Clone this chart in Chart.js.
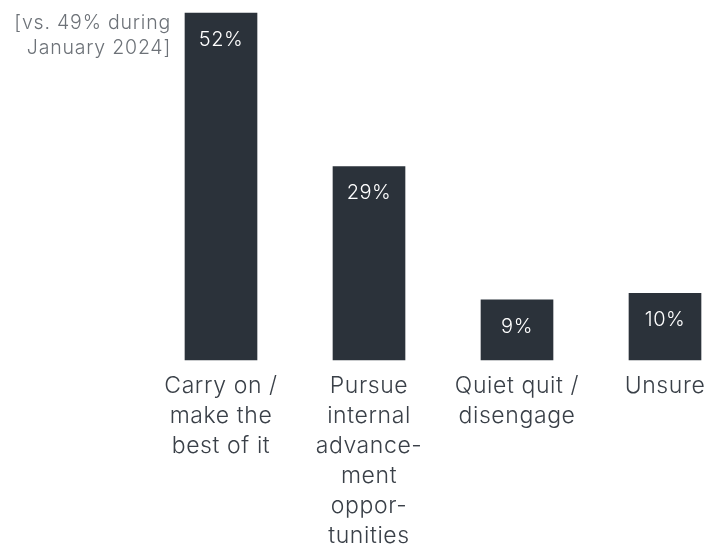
<!DOCTYPE html>
<html>
<head>
<meta charset="utf-8">
<script src="https://cdn.jsdelivr.net/npm/chart.js@4/dist/chart.umd.min.js"></script>
<style>
html,body{margin:0;padding:0;background:#fff;}
canvas{display:block;}
</style>
</head>
<body>
<canvas id="c" width="722" height="550"></canvas>
<script>
const categories = [
  ['Carry on /', 'make the', 'best of it'],
  ['Pursue', 'internal', 'advance-', 'ment', 'oppor-', 'tunities'],
  ['Quiet quit /', 'disengage'],
  ['Unsure']
];
const values = [52, 29, 9, 10];
const annotationLines = ['[vs. 49% during', 'January 2024]'];

const BAR = '#2b323a';
const TEXT = '#3a4048';
const GRAY = '#6d7278';
const FONT = 'Inter, "Noto Sans", sans-serif';

const labelPlugin = {
  id: 'labels',
  beforeDraw(chart) {
    chart.ctx.letterSpacing = '0.6px';
  },
  afterDatasetsDraw(chart) {
    const ctx = chart.ctx;
    const meta = chart.getDatasetMeta(0);
    ctx.save();
    ctx.letterSpacing = '0.5px';
    ctx.font = '300 20px ' + FONT;
    ctx.fillStyle = '#ffffff';
    ctx.textAlign = 'center';
    ctx.textBaseline = 'middle';
    meta.data.forEach((bar, i) => {
      ctx.fillText(values[i] + '%', bar.x, bar.y + 27);
    });
    const b0 = meta.data[0];
    ctx.font = '300 19.5px ' + FONT;
    ctx.letterSpacing = '0.8px';
    ctx.fillStyle = GRAY;
    ctx.textAlign = 'right';
    ctx.textBaseline = 'middle';
    annotationLines.forEach((t, i) => {
      ctx.fillText(t, b0.x - b0.width / 2 - 14, b0.y + 10 + i * 25);
    });
    ctx.restore();
  }
};

new Chart(document.getElementById('c'), {
  type: 'bar',
  data: {
    labels: categories,
    datasets: [{
      data: values,
      backgroundColor: BAR,
      barThickness: 72,
      clip: false
    }]
  },
  options: {
    responsive: false,
    animation: false,
    layout: { padding: { left: 221, right: 57, top: 13, bottom: 0 } },
    plugins: { legend: { display: false }, tooltip: { enabled: false } },
    scales: {
      x: {
        offset: false,
        grid: { display: false },
        border: { display: false },
        ticks: {
          autoSkip: false,
          maxRotation: 0,
          color: TEXT,
          padding: 3,
          font: { family: FONT, size: 23, weight: 300, lineHeight: '30px' }
        },
        afterFit(scale) { scale.height = 190; }
      },
      y: {
        display: false,
        min: 0,
        max: 52
      }
    }
  },
  plugins: [labelPlugin]
});
</script>
</body>
</html>
